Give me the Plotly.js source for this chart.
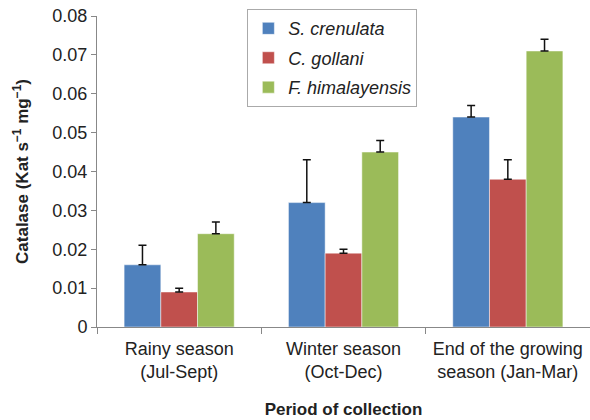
<!DOCTYPE html>
<html>
<head>
<meta charset="utf-8">
<script src="https://cdn.plot.ly/plotly-3.0.1.min.js"></script>
<style>html,body{margin:0;padding:0;background:#fff}#chart{width:590px;height:420px}</style>
</head>
<body>
<div id="chart"></div>
<script>
const categories = ["Rainy season<br>(Jul-Sept)", "Winter season<br>(Oct-Dec)", "End of the growing<br>season (Jan-Mar)"];
const seriesNames = ["S. crenulata", "C. gollani", "F. himalayensis"];
const sCrenulata = [0.016, 0.032, 0.054];
const sCrenulataErr = [0.005, 0.011, 0.003];
const cGollani = [0.009, 0.019, 0.038];
const cGollaniErr = [0.001, 0.001, 0.005];
const fHimalayensis = [0.024, 0.045, 0.071];
const fHimalayensisErr = [0.003, 0.003, 0.003];
const colors = ["#4F81BD", "#C0504D", "#9BBB59"];

const values = [sCrenulata, cGollani, fHimalayensis];
const errs = [sCrenulataErr, cGollaniErr, fHimalayensisErr];

const traces = values.map((v, i) => ({
  type: "bar",
  x: categories,
  y: v,
  name: seriesNames[i],
  legendgroup: "g" + i,
  marker: {color: colors[i], line: {color: "rgba(255,255,255,0.6)", width: 0.8}},
  error_y: {type: "data", array: errs[i], arrayminus: errs[i].map(() => 0), symmetric: false, color: "#111", thickness: 1.5, width: 4}
}));

const layout = {
  width: 590, height: 420,
  margin: {l: 97, r: 0, t: 16, b: 93.3},
  paper_bgcolor: "#fff", plot_bgcolor: "#fff",
  font: {family: "Liberation Sans, Arial, sans-serif", color: "#222", size: 18},
  barmode: "group",
  bargap: 0.33, bargroupgap: 0,
  showlegend: true,
  legend: {
    x: 0.305, y: 1.022, xanchor: "left", yanchor: "top",
    bordercolor: "#aaa", borderwidth: 1, bgcolor: "#fff",
    font: {size: 18, style: "italic", color: "#222"},
    traceorder: "grouped", tracegroupgap: 3
  },
  xaxis: {
    showline: true, linecolor: "#888", linewidth: 1,
    ticks: "outside", tickson: "boundaries", ticklen: 6, tickcolor: "#888",
    ticklabelstandoff: 5,
    tickfont: {size: 18, color: "#222"},
    title: {text: "<b>Period of collection</b>", font: {size: 17, color: "#222"}, standoff: 22}
  },
  yaxis: {
    range: [0, 0.08], dtick: 0.01, tick0: 0,
    showline: true, linecolor: "#888", linewidth: 1,
    ticks: "outside", ticklen: 5, tickcolor: "#888",
    showgrid: false, zeroline: false,
    tickfont: {size: 18, color: "#222"},
    title: {text: "<b>Catalase (Kat s<sup>−1</sup> mg<sup>−1</sup>)</b>", font: {size: 17, color: "#222"}, standoff: 19}
  }
};

Plotly.newPlot("chart", traces, layout, {displayModeBar: false, staticPlot: true});
</script>
</body>
</html>
